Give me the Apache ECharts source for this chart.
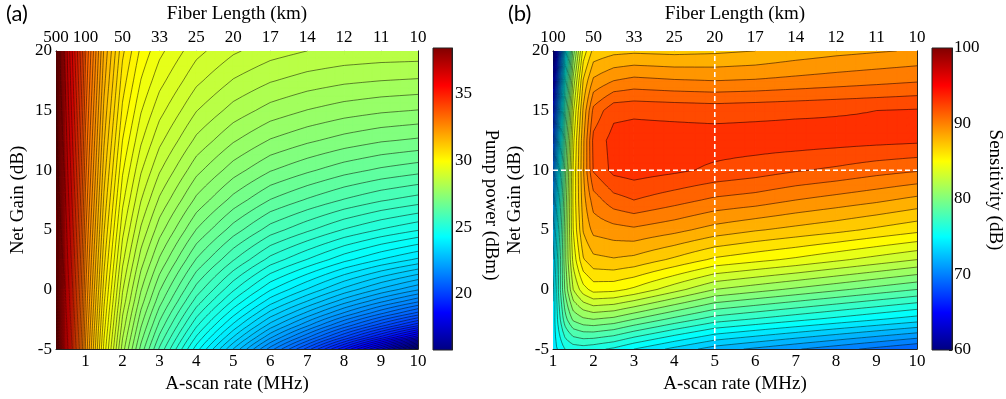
<!DOCTYPE html>
<html>
<head>
<meta charset="utf-8">
<script src="https://cdn.jsdelivr.net/npm/echarts@6/dist/echarts.min.js"></script>
<style>
  html, body { margin: 0; background: #fff; }
  #chart { width: 1006px; height: 399px; }
</style>
</head>
<body>
<div id="chart"></div>
<script>
// ---- panel (a): pump power (dBm), one row per A-scan rate, values over gainA ----
const rateA = [0.2, 0.3, 0.45, 0.7, 1, 1.5, 2, 2.5, 3, 4, 5, 6, 7, 8, 9, 10];
const gainA = [-5, -4, -3, -2, -1, 0, 2.5, 5, 7.5, 10, 12.5, 15, 17.5, 20];
const pumpPower = [
  [38.09, 38.10, 38.12, 38.13, 38.14, 38.16, 38.19, 38.23, 38.26, 38.29, 38.32, 38.36, 38.39, 38.42],
  [37.21, 37.23, 37.25, 37.27, 37.29, 37.31, 37.36, 37.41, 37.46, 37.51, 37.55, 37.60, 37.65, 37.70],
  [35.91, 35.94, 35.97, 36.00, 36.03, 36.06, 36.14, 36.21, 36.29, 36.36, 36.43, 36.50, 36.57, 36.63],
  [34.13, 34.18, 34.23, 34.28, 34.33, 34.37, 34.49, 34.60, 34.71, 34.82, 34.93, 35.03, 35.13, 35.23],
  [32.21, 32.27, 32.33, 32.40, 32.46, 32.52, 32.66, 32.80, 32.94, 33.07, 33.19, 33.31, 33.42, 33.53],
  [29.92, 30.01, 30.11, 30.20, 30.29, 30.38, 30.58, 30.77, 30.95, 31.12, 31.28, 31.43, 31.58, 31.71],
  [28.13, 28.27, 28.41, 28.53, 28.67, 28.78, 29.07, 29.33, 29.57, 29.79, 30.00, 30.20, 30.38, 30.56],
  [26.91, 27.10, 27.28, 27.45, 27.62, 27.77, 28.13, 28.46, 28.76, 29.03, 29.29, 29.52, 29.74, 29.94],
  [25.96, 26.20, 26.43, 26.64, 26.85, 27.03, 27.47, 27.86, 28.21, 28.53, 28.82, 29.09, 29.34, 29.57],
  [24.37, 24.72, 25.05, 25.35, 25.64, 25.90, 26.48, 26.99, 27.44, 27.83, 28.19, 28.51, 28.81, 29.08],
  [22.99, 23.49, 23.94, 24.34, 24.71, 25.04, 25.77, 26.38, 26.91, 27.37, 27.78, 28.15, 28.48, 28.79],
  [21.63, 22.31, 22.90, 23.41, 23.87, 24.28, 25.16, 25.88, 26.49, 27.02, 27.48, 27.90, 28.27, 28.61],
  [20.39, 21.30, 22.06, 22.68, 23.24, 23.73, 24.74, 25.55, 26.22, 26.80, 27.30, 27.74, 28.14, 28.50],
  [19.02, 20.23, 21.18, 21.96, 22.61, 23.18, 24.33, 25.23, 25.98, 26.60, 27.15, 27.62, 28.05, 28.44],
  [17.53, 19.17, 20.36, 21.29, 22.05, 22.70, 23.99, 24.98, 25.78, 26.45, 27.03, 27.54, 28.00, 28.41],
  [15.79, 18.07, 19.56, 20.66, 21.54, 22.28, 23.70, 24.77, 25.63, 26.34, 26.96, 27.49, 27.97, 28.40]
];

// ---- panel (b): sensitivity (dB), one row per A-scan rate, values over gainB ----
const rateB = [1, 1.15, 1.3, 1.5, 1.75, 2, 2.5, 3, 4, 5, 6, 7, 8, 9, 10];
const gainB = [-5, -2.5, 0, 2.5, 5, 7.5, 10, 12.5, 15, 17.5, 20];
const sensitivity = [
  [74.5, 74.3, 73.8, 73.0, 72.0, 70.8, 69.5, 67.8, 65.8, 63.3, 60.6],
  [75.2, 76.6, 77.4, 77.2, 76.5, 75.7, 74.7, 73.4, 71.6, 69.6, 67.3],
  [76.0, 78.6, 80.2, 80.7, 80.6, 80.2, 79.6, 78.7, 77.4, 75.7, 73.6],
  [76.4, 80.2, 83.0, 84.3, 85.0, 85.2, 85.1, 84.7, 83.8, 82.3, 80.4],
  [76.5, 80.8, 84.6, 86.9, 88.1, 88.6, 88.9, 88.8, 88.2, 87.1, 85.4],
  [76.3, 81.0, 85.4, 87.7, 89.3, 90.5, 92.1, 92.3, 91.3, 89.2, 87.3],
  [75.8, 80.7, 85.3, 87.9, 89.6, 91.6, 93.3, 93.4, 92.7, 90.0, 87.7],
  [75.0, 80.0, 84.8, 87.7, 89.8, 92.0, 93.5, 93.5, 92.8, 90.3, 87.8],
  [73.7, 78.7, 83.4, 86.8, 89.3, 91.4, 93.2, 93.5, 92.7, 90.1, 87.7],
  [72.5, 77.5, 82.0, 85.8, 88.6, 90.8, 92.8, 93.5, 92.6, 90.0, 87.8],
  [71.8, 76.9, 81.4, 85.3, 88.1, 90.5, 92.5, 93.5, 92.7, 90.1, 88.0],
  [71.1, 76.3, 80.8, 84.8, 87.7, 90.0, 92.1, 93.5, 92.8, 90.3, 88.4],
  [70.4, 75.7, 80.2, 84.2, 87.3, 89.6, 91.8, 93.4, 92.9, 90.5, 88.7],
  [69.7, 75.1, 79.6, 83.6, 86.8, 89.2, 91.4, 93.3, 93.0, 90.7, 88.9],
  [69.0, 74.5, 79.0, 83.0, 86.3, 88.7, 91.1, 93.2, 93.1, 90.9, 89.1]
];

// ticks and labels
const rateTicks = [1, 2, 3, 4, 5, 6, 7, 8, 9, 10];
const fiberTicksA = [0.2, 1, 2, 3, 4, 5, 6, 7, 8, 9, 10];
const fiberLabelsA = ['500', '100', '50', '33', '25', '20', '17', '14', '12', '11', '10'];
const fiberLabelsB = ['100', '50', '33', '25', '20', '17', '14', '12', '11', '10'];
const pumpTicks = [20, 25, 30, 35];
const pumpRange = [15.8, 38.4];
const sensRange = [60, 100];
const markRate = 5;
const markGain = 10;

const serif = '"Liberation Serif", "Times New Roman", serif';

function jet(t) {
  t = Math.max(0, Math.min(1, t));
  const f = v => Math.round(255 * Math.max(0, Math.min(1, v)));
  return 'rgb(' + f(Math.min(4 * t - 1.5, -4 * t + 4.5)) + ',' +
    f(Math.min(4 * t - 0.5, -4 * t + 3.5)) + ',' +
    f(Math.min(4 * t + 0.5, -4 * t + 2.5)) + ')';
}

function clip(poly, l, above) {
  const out = [];
  for (let n = 0; n < poly.length; n++) {
    const P = poly[n], Q = poly[(n + 1) % poly.length];
    const pin = above ? P.v >= l : P.v <= l;
    const qin = above ? Q.v >= l : Q.v <= l;
    if (pin) out.push(P);
    if (pin !== qin) {
      const t = (l - P.v) / (Q.v - P.v);
      out.push({x: P.x + t * (Q.x - P.x), y: P.y + t * (Q.y - P.y), v: l});
    }
  }
  return out;
}

// filled contour bands or contour lines, one custom item per data cell
// colorAt: where inside a band its colour is taken (0 = lower level, like contourf)
function contourLayer(xs, ys, vals, lvl0, step, range, axis, mode, colorAt) {
  const cells = [];
  for (let i = 0; i < xs.length - 1; i++)
    for (let j = 0; j < ys.length - 1; j++) cells.push([xs[i], ys[j], i, j]);
  const N = 4;
  const f2 = n => n.toFixed(2);
  return {
    type: 'custom',
    xAxisIndex: axis, yAxisIndex: axis,
    data: cells, encode: {x: 0, y: 1},
    silent: true, animation: false, clip: true,
    z: mode === 'fill' ? 1 : 2,
    renderItem(params, api) {
      const c = cells[params.dataIndex], i = c[2], j = c[3];
      const x0 = xs[i], x1 = xs[i + 1], y0 = ys[j], y1 = ys[j + 1];
      const a = vals[i][j], b = vals[i + 1][j], cc = vals[i][j + 1], d = vals[i + 1][j + 1];
      const pts = [];
      for (let p = 0; p <= N; p++) {
        pts.push([]);
        for (let q = 0; q <= N; q++) {
          const s = p / N, t = q / N;
          const v = a * (1 - s) * (1 - t) + b * s * (1 - t) + cc * (1 - s) * t + d * s * t;
          const xy = api.coord([x0 + s * (x1 - x0), y0 + t * (y1 - y0)]);
          pts[p].push({x: xy[0], y: xy[1], v: v});
        }
      }
      const bands = {};
      let lines = '';
      for (let p = 0; p < N; p++) {
        for (let q = 0; q < N; q++) {
          const A = pts[p][q], B = pts[p + 1][q], C = pts[p + 1][q + 1], D = pts[p][q + 1];
          [[A, B, C], [A, C, D]].forEach(tri => {
            const lo = Math.min(tri[0].v, tri[1].v, tri[2].v);
            const hi = Math.max(tri[0].v, tri[1].v, tri[2].v);
            const k0 = Math.floor((lo - lvl0) / step), k1 = Math.floor((hi - lvl0) / step);
            if (mode === 'fill') {
              for (let k = k0; k <= k1; k++) {
                let poly = tri;
                if (k > k0) poly = clip(poly, lvl0 + k * step, true);
                if (k < k1) poly = clip(poly, lvl0 + (k + 1) * step, false);
                if (poly.length < 3) continue;
                bands[k] = (bands[k] || '') + 'M' + poly.map(o => f2(o.x) + ' ' + f2(o.y)).join('L') + 'Z';
              }
            } else {
              for (let k = k0 + 1; k <= k1; k++) {
                const l = lvl0 + k * step, seg = [];
                for (let e = 0; e < 3; e++) {
                  const P = tri[e], Q = tri[(e + 1) % 3];
                  if ((P.v < l) !== (Q.v < l)) {
                    const t = (l - P.v) / (Q.v - P.v);
                    seg.push(f2(P.x + t * (Q.x - P.x)) + ' ' + f2(P.y + t * (Q.y - P.y)));
                  }
                }
                if (seg.length === 2) lines += 'M' + seg[0] + 'L' + seg[1];
              }
            }
          });
        }
      }
      const children = [];
      if (mode === 'fill') {
        Object.keys(bands).forEach(k => {
          const col = jet((lvl0 + (+k + colorAt) * step - range[0]) / (range[1] - range[0]));
          children.push({type: 'path', shape: {pathData: bands[k]},
            style: {fill: col, stroke: col, lineWidth: 1}});
        });
      } else if (lines) {
        children.push({type: 'path', shape: {pathData: lines},
          style: {fill: 'none', stroke: 'rgba(0,0,0,0.62)', lineWidth: 0.8}});
      }
      return {type: 'group', children: children};
    }
  };
}

function colorbar(axis, range) {
  return {
    type: 'custom', xAxisIndex: axis, yAxisIndex: axis,
    data: [[0, range[0], 1, range[1]]], encode: {x: 0, y: 1},
    silent: true, animation: false,
    renderItem(params, api) {
      const p0 = api.coord([0, range[0]]), p1 = api.coord([1, range[1]]);
      const stops = [1, 0.875, 0.625, 0.375, 0.125, 0].map(t => ({offset: 1 - t, color: jet(t)}));
      return {
        type: 'rect',
        shape: {x: p0[0], y: p1[1], width: p1[0] - p0[0], height: p0[1] - p1[1]},
        style: {fill: new echarts.graphic.LinearGradient(0, 0, 0, 1, stops), stroke: '#222', lineWidth: 1}
      };
    }
  };
}

const labelStyle = {fontFamily: serif, fontSize: 17, color: '#000'};
const nameStyle = {fontFamily: serif, fontSize: 19, color: '#000'};
const frame = {show: true, onZero: false, lineStyle: {color: '#222', width: 1}};
const tickIn = {show: true, inside: true, length: 4, lineStyle: {color: '#222', width: 1}};
const noSplit = {show: false};
const pick = (ticks, labels) => v => labels[ticks.findIndex(t => Math.abs(t - v) < 1e-6)] || '';

const chart = echarts.init(document.getElementById('chart'));
chart.setOption({
  animation: false,
  textStyle: {fontFamily: serif},
  grid: [
    {left: 56, top: 48, width: 362, height: 302},
    {left: 433, top: 48, width: 19, height: 302},
    {left: 553, top: 48, width: 364, height: 302},
    {left: 932, top: 48, width: 20, height: 302}
  ],
  xAxis: [
    {gridIndex: 0, type: 'value', min: 0.2, max: 10, position: 'bottom', axisLine: frame,
      axisTick: {...tickIn, customValues: rateTicks},
      axisLabel: {...labelStyle, customValues: rateTicks, margin: 4}, splitLine: noSplit,
      name: 'A-scan rate (MHz)', nameLocation: 'middle', nameGap: 25, nameTextStyle: nameStyle},
    {gridIndex: 0, type: 'value', min: 0.2, max: 10, position: 'top', axisLine: frame,
      axisTick: {...tickIn, customValues: fiberTicksA},
      axisLabel: {...labelStyle, customValues: fiberTicksA, margin: 5, formatter: pick(fiberTicksA, fiberLabelsA)},
      splitLine: noSplit,
      name: 'Fiber Length (km)', nameLocation: 'middle', nameGap: 25, nameTextStyle: nameStyle},
    {gridIndex: 1, type: 'value', min: 0, max: 1, show: false},
    {gridIndex: 2, type: 'value', min: 1, max: 10, interval: 1, position: 'bottom', axisLine: frame,
      axisTick: tickIn, axisLabel: {...labelStyle, margin: 4}, splitLine: noSplit,
      name: 'A-scan rate (MHz)', nameLocation: 'middle', nameGap: 25, nameTextStyle: nameStyle},
    {gridIndex: 2, type: 'value', min: 1, max: 10, position: 'top', axisLine: frame,
      axisTick: {...tickIn, customValues: rateTicks},
      axisLabel: {...labelStyle, customValues: rateTicks, margin: 5, formatter: pick(rateTicks, fiberLabelsB)},
      splitLine: noSplit,
      name: 'Fiber Length (km)', nameLocation: 'middle', nameGap: 25, nameTextStyle: nameStyle},
    {gridIndex: 3, type: 'value', min: 0, max: 1, show: false}
  ],
  yAxis: [
    {gridIndex: 0, type: 'value', min: -5, max: 20, interval: 5, position: 'left', axisLine: frame,
      axisTick: tickIn, axisLabel: {...labelStyle, margin: 4}, splitLine: noSplit,
      name: 'Net Gain (dB)', nameLocation: 'middle', nameGap: 28, nameTextStyle: nameStyle},
    {gridIndex: 0, type: 'value', min: -5, max: 20, interval: 5, position: 'right', axisLine: frame,
      axisTick: tickIn, axisLabel: {show: false}, splitLine: noSplit},
    {gridIndex: 1, type: 'value', min: pumpRange[0], max: pumpRange[1], position: 'right', axisLine: frame,
      axisTick: {...tickIn, length: 3, customValues: pumpTicks},
      axisLabel: {...labelStyle, customValues: pumpTicks, margin: 3}, splitLine: noSplit},
    {gridIndex: 2, type: 'value', min: -5, max: 20, interval: 5, position: 'left', axisLine: frame,
      axisTick: tickIn, axisLabel: {...labelStyle, margin: 4}, splitLine: noSplit,
      name: 'Net Gain (dB)', nameLocation: 'middle', nameGap: 28, nameTextStyle: nameStyle},
    {gridIndex: 2, type: 'value', min: -5, max: 20, interval: 5, position: 'right', axisLine: frame,
      axisTick: tickIn, axisLabel: {show: false}, splitLine: noSplit},
    {gridIndex: 3, type: 'value', min: sensRange[0], max: sensRange[1], interval: 10, position: 'right',
      axisLine: frame, axisTick: {...tickIn, length: 3},
      axisLabel: {...labelStyle, margin: 2}, splitLine: noSplit}
  ],
  series: [
    contourLayer(rateA, gainA, pumpPower, 15.75, 0.25, pumpRange, 0, 'fill', 0.5),
    contourLayer(rateA, gainA, pumpPower, 15.75, 0.25, pumpRange, 0, 'line', 0.5),
    colorbar(2, pumpRange),
    contourLayer(rateB, gainB, sensitivity, 60, 1, sensRange, 3, 'fill', 0.1),
    contourLayer(rateB, gainB, sensitivity, 60, 1, sensRange, 3, 'line', 0.1),
    {type: 'line', xAxisIndex: 3, yAxisIndex: 3, data: [[markRate, gainB[0]], [markRate, gainB[gainB.length - 1]]],
      symbol: 'none', silent: true, z: 5, lineStyle: {color: '#fff', width: 1.6, type: [5, 3]}},
    {type: 'line', xAxisIndex: 3, yAxisIndex: 3, data: [[rateB[0], markGain], [rateB[rateB.length - 1], markGain]],
      symbol: 'none', silent: true, z: 5, lineStyle: {color: '#fff', width: 1.6, type: [5, 3]}},
    colorbar(5, sensRange)
  ],
  graphic: [
    {type: 'text', x: 6, y: 3, style: {text: '(a)', font: '22px Lato', fill: '#000'}},
    {type: 'text', x: 508, y: 3, style: {text: '(b)', font: '22px Lato', fill: '#000'}},
    {type: 'text', x: 491, y: 205, rotation: -Math.PI / 2,
      style: {text: 'Pump power (dBm)', font: '19px "Liberation Serif"', fill: '#000',
        textAlign: 'center', textVerticalAlign: 'middle'}},
    {type: 'text', x: 995, y: 190, rotation: -Math.PI / 2,
      style: {text: 'Sensitivity (dB)', font: '19px "Liberation Serif"', fill: '#000',
        textAlign: 'center', textVerticalAlign: 'middle'}}
  ]
});
</script>
</body>
</html>
